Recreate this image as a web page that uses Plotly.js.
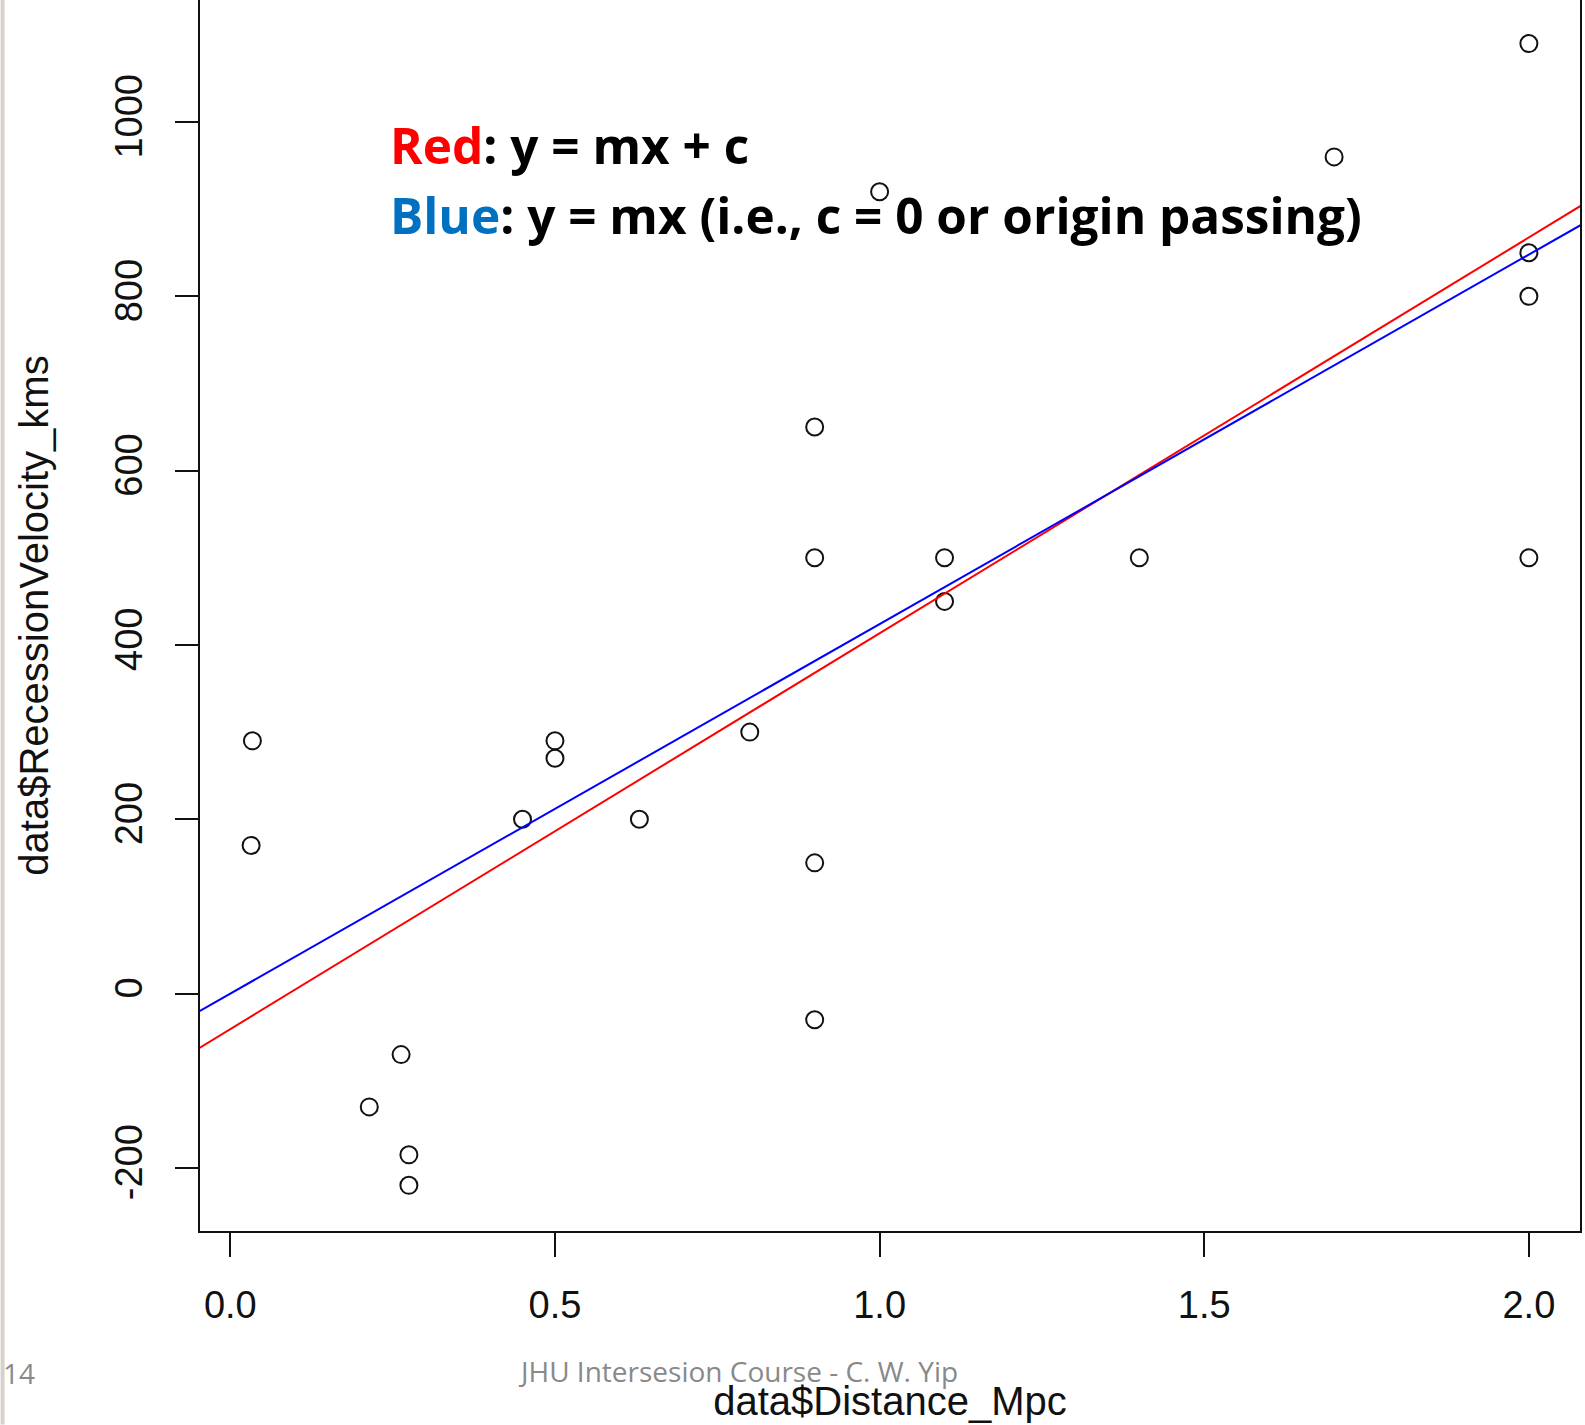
<!DOCTYPE html>
<html>
<head>
<meta charset="utf-8">
<script src="https://cdn.plot.ly/plotly-3.0.1.min.js"></script>
<style>
html,body{margin:0;padding:0;background:#fff;}
#chart{width:1585px;height:1425px;}
</style>
</head>
<body>
<div id="chart"></div>
<script>
// Hubble (1929) data as plotted
const distanceMpc = [0.032, 0.034, 0.214, 0.263, 0.275, 0.275, 0.45, 0.5, 0.5, 0.63, 0.8, 0.9, 0.9, 0.9, 0.9, 1.0, 1.1, 1.1, 1.4, 1.7, 2.0, 2.0, 2.0, 2.0];
const velocityKms = [170, 290, -130, -70, -185, -220, 200, 290, 270, 200, 300, -30, 650, 150, 500, 920, 450, 500, 500, 960, 500, 850, 800, 1090];

// fitted lines (end points read across the plot)
const lineX = [-0.1, 2.2];
const redY = [-86.2, 958.4];   // y = mx + c
const blueY = [-42.4, 932.7];  // y = mx

const xTicks = [0.0, 0.5, 1.0, 1.5, 2.0];
const xTickText = ['0.0', '0.5', '1.0', '1.5', '2.0'];
const yTicks = [-200, 0, 200, 400, 600, 800, 1000];
const yTickText = ['-200', '0', '200', '400', '600', '800', '1000'];

const axisFont = {family: 'Liberation Sans, Arial, sans-serif', size: 38, color: '#111'};
const titleFont = {family: 'Liberation Sans, Arial, sans-serif', size: 40, color: '#111'};

const traces = [
  {
    x: distanceMpc, y: velocityKms, type: 'scatter', mode: 'markers',
    marker: {symbol: 'circle-open', size: 17, color: '#111', line: {width: 2, color: '#111'}},
    showlegend: false, hoverinfo: 'x+y'
  },
  {
    x: lineX, y: redY, type: 'scatter', mode: 'lines',
    line: {color: '#ff0000', width: 2}, showlegend: false
  },
  {
    x: lineX, y: blueY, type: 'scatter', mode: 'lines',
    line: {color: '#0000ff', width: 2}, showlegend: false
  }
];

const L = 199.5, PW = 1380.5, PH = 1231.5;
const layout = {
  width: 1585, height: 1425,
  margin: {l: L, r: 1585 - L - PW, t: 0, b: 1425 - PH, pad: 0},
  paper_bgcolor: '#ffffff', plot_bgcolor: '#ffffff',
  showlegend: false,
  xaxis: {
    range: [-0.04672, 2.07872], autorange: false,
    tickvals: xTicks, ticktext: xTickText,
    ticks: 'outside', ticklen: 24, tickwidth: 2, tickcolor: '#111',
    showline: true, linecolor: '#111', linewidth: 2, mirror: false,
    showgrid: false, zeroline: false,
    tickfont: axisFont, ticklabelstandoff: 15,
    title: {text: 'data$Distance_Mpc', font: titleFont, standoff: 62}
  },
  yaxis: {
    range: [-272.4, 1140], autorange: false,
    tickvals: yTicks, ticktext: yTickText, tickangle: -90,
    ticks: 'outside', ticklen: 23, tickwidth: 2, tickcolor: '#111',
    showline: true, linecolor: '#111', linewidth: 2, mirror: true,
    showgrid: false, zeroline: false,
    tickfont: axisFont, ticklabelstandoff: 18,
    title: {text: 'data$RecessionVelocity_kms', font: titleFont, standoff: 47}
  },
  shapes: [
    {type: 'rect', xref: 'paper', yref: 'paper',
     x0: -L / PW, x1: (4 - L) / PW, y0: -(1425 - PH) / PH, y1: 1.01,
     fillcolor: '#d6d2ca', line: {width: 0}, layer: 'above'}
  ],
  annotations: [
    {xref: 'paper', yref: 'paper', x: (388 - L) / PW, y: (PH - 145) / PH,
     xanchor: 'left', yanchor: 'middle', showarrow: false,
     text: '<span style="color:#ff0000">Red</span>: y = mx + c',
     font: {family: 'Open Sans, sans-serif', size: 49.5, weight: 700, color: '#000'}},
    {xref: 'paper', yref: 'paper', x: (388 - L) / PW, y: (PH - 215) / PH,
     xanchor: 'left', yanchor: 'middle', showarrow: false,
     text: '<span style="color:#0070c0">Blue</span>: y = mx (i.e., c = 0 or origin passing)',
     font: {family: 'Open Sans, sans-serif', size: 49.5, weight: 700, color: '#000'}},
    {xref: 'paper', yref: 'paper', x: (0 - L) / PW, y: (PH - 1374) / PH,
     xanchor: 'left', yanchor: 'middle', showarrow: false,
     text: '14', font: {family: 'Open Sans, sans-serif', size: 28, color: '#898989'}},
    {xref: 'paper', yref: 'paper', x: (738 - L) / PW, y: (PH - 1372) / PH,
     xanchor: 'center', yanchor: 'middle', showarrow: false,
     text: 'JHU Intersesion Course - C. W. Yip',
     font: {family: 'Open Sans, sans-serif', size: 28, color: '#898989'}}
  ]
};

Plotly.newPlot('chart', traces, layout, {displayModeBar: false, staticPlot: true});
</script>
</body>
</html>
